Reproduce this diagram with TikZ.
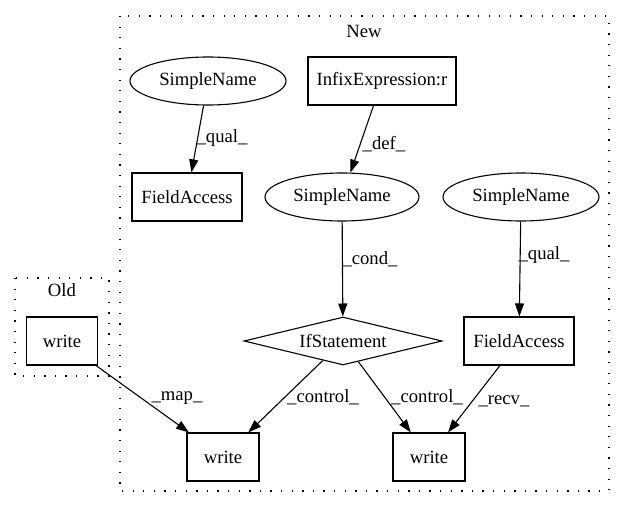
\documentclass[tikz,border=0pt]{standalone}
\usepackage{fontspec}
\setmainfont{Liberation Serif}
\usetikzlibrary{shapes.geometric,arrows.meta}
\begin{document}
\begin{tikzpicture}[x=1pt,y=-1pt,
  every node/.style={font=\fontsize{18.67}{22}\selectfont, inner sep=0pt},
  box/.style={draw, line width=1.1pt, rectangle, minimum height=48pt},
  oval/.style={draw, line width=1.1pt, ellipse, minimum height=48pt},
  dia/.style={draw, line width=1.1pt, diamond, aspect=4, minimum width=198pt, minimum height=48pt},
  edge/.style={draw, line width=1.1pt, -{Triangle[length=13pt,width=9pt]}},
  lbl/.style={font=\fontsize{18.67}{22}\selectfont},
  cluster/.style={draw, line width=1.3pt, dash pattern=on 1.3pt off 9.3pt}
]
\useasboundingbox (0,0) rectangle (625,508);
% clusters
\draw[cluster] (120,16) rectangle (609,491);
\node (newlbl) at (364,31) {New};
\draw[cluster] (15,278) rectangle (109,376);
\node (oldlbl) at (62,290) {Old};
% nodes
\node[oval, minimum width=156pt] (sn1) at (208,81) {SimpleName};
\node[box, minimum width=148pt] (infix) at (382,81) {InfixExpression:r};
\node[box, minimum width=110pt] (fa1) at (187,197) {FieldAccess};
\node[oval, minimum width=154pt] (sn2) at (342,197) {SimpleName};
\node[oval, minimum width=156pt] (sn3) at (521,197) {SimpleName};
\node[dia] (ifs) at (343,341) {IfStatement};
\node[box, minimum width=110pt] (fa2) at (519,341) {FieldAccess};
\node[box, minimum width=71pt] (oldw) at (62,341) {write};
\node[box, minimum width=72pt] (w1) at (223,457) {write};
\node[box, minimum width=72pt] (w2) at (429,457) {write};
% edges
\path[edge] (sn1) -- (fa1);
\path[edge] (infix) -- (sn2);
\path[edge] (sn2) -- (ifs);
\path[edge] (sn3) -- (fa2);
\path[edge] (ifs) -- (w1);
\path[edge] (ifs) -- (w2);
\path[edge] (fa2) -- (w2);
\path[edge] (oldw) -- (w1);
% edge labels
\node[lbl] (l1) at (222,138) {\_qual\_};
\node[lbl] (l2) at (384,144) {\_def\_};
\node[lbl] (l3) at (370,259) {\_cond\_};
\node[lbl] (l4) at (544,255) {\_qual\_};
\node[lbl] (l5) at (323,397) {\_control\_};
\node[lbl] (l6) at (427,397) {\_control\_};
\node[lbl] (l7) at (504,401) {\_recv\_};
\node[lbl] (l8) at (177,398) {\_map\_};
\end{tikzpicture}
\end{document}
